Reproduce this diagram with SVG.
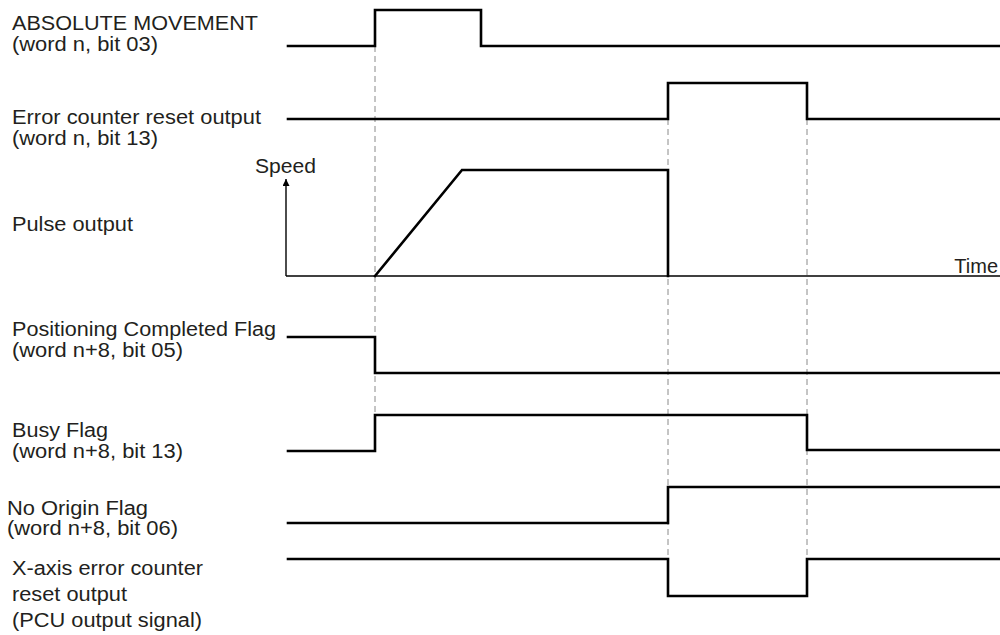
<svg xmlns="http://www.w3.org/2000/svg" width="1000" height="635" viewBox="0 0 1000 635">
<style>
  .lbl { font-family: "Liberation Sans", Arial, sans-serif; font-size: 20px; fill: #231f20; }
  .sig { fill: none; stroke: #000; stroke-width: 2.6; stroke-linejoin: miter; stroke-linecap: square; }
  .axis { fill: none; stroke: #000; stroke-width: 1.4; }
  .guide { fill: none; stroke: #8a8a8a; stroke-width: 1; stroke-dasharray: 6 4; }
</style>
<defs>
  <marker id="arr" viewBox="0 0 10 10" refX="10" refY="5" markerWidth="10" markerHeight="7" markerUnits="userSpaceOnUse" orient="auto">
    <path d="M0,0 L10,5 L0,10 z" fill="#000"/>
  </marker>
</defs>
<rect width="1000" height="635" fill="#fff"/>

<g id="guides">
  <line class="guide" x1="375" y1="46" x2="375" y2="414"/>
  <line class="guide" x1="668" y1="119" x2="668" y2="559"/>
  <line class="guide" x1="807" y1="119" x2="807" y2="559"/>
</g>

<g id="absolute-movement">
  <text class="lbl" x="12" y="30" textLength="246" lengthAdjust="spacingAndGlyphs">ABSOLUTE MOVEMENT</text>
  <text class="lbl" x="12" y="51" textLength="146" lengthAdjust="spacingAndGlyphs">(word n, bit 03)</text>
  <polyline class="sig" points="288,46 375,46 375,10 481,10 481,46 1000,46"/>
</g>

<g id="error-counter-reset">
  <text class="lbl" x="12" y="124" textLength="249" lengthAdjust="spacingAndGlyphs">Error counter reset output</text>
  <text class="lbl" x="12" y="145" textLength="146" lengthAdjust="spacingAndGlyphs">(word n, bit 13)</text>
  <polyline class="sig" points="288,119 668,119 668,83 807,83 807,119 1000,119"/>
</g>

<g id="pulse-output">
  <text class="lbl" x="255" y="173" textLength="61" lengthAdjust="spacingAndGlyphs">Speed</text>
  <text class="lbl" x="12" y="231" textLength="121" lengthAdjust="spacingAndGlyphs">Pulse output</text>
  <text class="lbl" x="998" y="273" text-anchor="end">Time</text>
  <line class="axis" x1="286" y1="276" x2="1000" y2="276"/>
  <line class="axis" x1="286" y1="276" x2="286" y2="179" marker-end="url(#arr)"/>
  <polyline class="sig" points="375,276 462,170 668,170 668,276"/>
</g>

<g id="positioning-completed">
  <text class="lbl" x="12" y="336" textLength="264" lengthAdjust="spacingAndGlyphs">Positioning Completed Flag</text>
  <text class="lbl" x="12" y="357" textLength="171" lengthAdjust="spacingAndGlyphs">(word n+8, bit 05)</text>
  <polyline class="sig" points="288,337 375,337 375,373 1000,373"/>
</g>

<g id="busy-flag">
  <text class="lbl" x="12" y="437" textLength="96" lengthAdjust="spacingAndGlyphs">Busy Flag</text>
  <text class="lbl" x="12" y="458" textLength="171" lengthAdjust="spacingAndGlyphs">(word n+8, bit 13)</text>
  <polyline class="sig" points="288,451 375,451 375,415 807,415 807,450 1000,450"/>
</g>

<g id="no-origin-flag">
  <text class="lbl" x="7" y="515" textLength="141" lengthAdjust="spacingAndGlyphs">No Origin Flag</text>
  <text class="lbl" x="7" y="535" textLength="171" lengthAdjust="spacingAndGlyphs">(word n+8, bit 06)</text>
  <polyline class="sig" points="288,523 668,523 668,487 1000,487"/>
</g>

<g id="x-axis-error-counter">
  <text class="lbl" x="12" y="575" textLength="191" lengthAdjust="spacingAndGlyphs">X-axis error counter</text>
  <text class="lbl" x="12" y="601" textLength="115" lengthAdjust="spacingAndGlyphs">reset output</text>
  <text class="lbl" x="12" y="627" textLength="190" lengthAdjust="spacingAndGlyphs">(PCU output signal)</text>
  <polyline class="sig" points="288,559 668,559 668,596 807,596 807,559 1000,559"/>
</g>
</svg>
